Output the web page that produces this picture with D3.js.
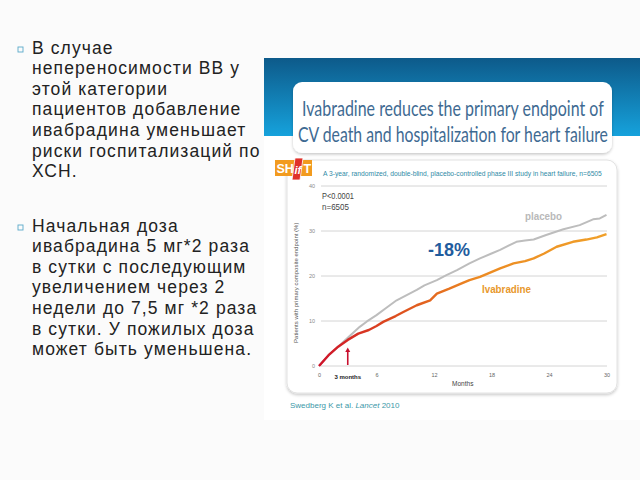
<!DOCTYPE html>
<html><head><meta charset="utf-8">
<script src="https://cdn.jsdelivr.net/npm/d3@7"></script>
<style>
html,body{margin:0;padding:0;background:#fbfbfb;}
svg{display:block;}
</style></head>
<body>
<svg id="chart" width="640" height="480"></svg>
<script>
// ---- data ----
const bullet1 = ["В случае","непереносимости ВВ у","этой категории","пациентов добавление","ивабрадина уменьшает","риски госпитализаций по","ХСН."];
const bullet2 = ["Начальная доза","ивабрадина 5 мг*2 раза","в сутки с последующим","увеличением через 2","недели до 7,5 мг *2 раза","в сутки. У пожилых доза","может быть уменьшена."];
const titleLines = ["Ivabradine reduces the primary endpoint of","CV death and hospitalization for heart failure"];
const subtitle = "A 3-year, randomized, double-blind, placebo-controlled phase III study in heart failure, n=6505";
const yTicks = [0,10,20,30,40];
const xTicks = [0,6,12,18,24,30];
const xTickLabels = ["0","6","12","18","24","30"];
const placeboMonths = [0,1,2,3,4.25,5,6,7,8.1,9,10.2,11,12.3,13.3,14.4,15.7,16.8,18,18.9,20.6,21.5,22.4,23.7,25.5,27.2,28.6,29.3,30];
const placeboPct    = [0,2.4,4.3,6.3,8.7,9.9,11.3,12.9,14.6,15.6,16.9,17.9,19.1,20.2,21.3,22.8,23.9,25.0,25.8,27.6,27.9,28.1,29.1,30.4,31.3,32.6,32.8,33.6];
const ivaMonths = [0,1,2,3,4.1,5.2,6,6.7,8,8.8,10.2,11.6,12.3,13.6,14.7,15.7,16.8,18.9,20.3,21.5,22.4,23.5,24.8,26.5,27.9,29,30];
const ivaPct    = [0,2.4,4.3,5.8,7.2,8.0,8.9,9.8,11.1,12.0,13.5,14.6,16.1,17.2,18.2,19.1,19.8,21.7,22.8,23.3,23.9,25.0,26.5,27.6,28.1,28.6,29.3];

const svg = d3.select("#chart");
const defs = svg.append("defs");

// fit text to a width by adjusting font size, then stretch vertically to keep the glyph height
function fitText(sel, targetW, baseSize){
  sel.attr("font-size", baseSize);
  const w = sel.node().getComputedTextLength();
  const fs = baseSize * targetW / w;
  sel.attr("font-size", fs);
  const xx = +sel.attr("x"), yy = +sel.attr("y");
  const k = baseSize / fs;
  sel.attr("transform", `translate(${xx},${yy}) scale(1,${k}) translate(${-xx},${-yy})`);
}

// ---- left text ----
function para(lines, y0){
  const g = svg.append("g");
  g.append("rect").attr("x",18).attr("y",y0-6.5).attr("width",5).attr("height",5)
    .attr("fill","none").attr("stroke","#5aa9c9").attr("stroke-width",0.9);
  g.selectAll("text").data(lines).join("text")
    .attr("x",32).attr("y",(d,i)=>y0+i*20.6)
    .attr("font-family","'Liberation Sans', Arial, sans-serif")
    .attr("letter-spacing",1.1)
    .attr("font-size",17.5).attr("fill","#222").text(d=>d);
}

// ---- right image ----
const band = defs.append("linearGradient").attr("id","band").attr("x1",0).attr("y1",0).attr("x2",0).attr("y2",1);
band.append("stop").attr("offset","0%").attr("stop-color","#0d5a8a");
band.append("stop").attr("offset","100%").attr("stop-color","#16a2dc");
svg.append("rect").attr("x",264).attr("y",58).attr("width",376).attr("height",362).attr("fill","#ffffff");
svg.append("rect").attr("x",264).attr("y",58).attr("width",376).attr("height",78).attr("fill","url(#band)");

const sh = defs.append("filter").attr("id","sh").attr("x","-10%").attr("y","-10%").attr("width","120%").attr("height","130%");
sh.append("feDropShadow").attr("dx",0).attr("dy",1.5).attr("stdDeviation",1.5).attr("flood-color","#000").attr("flood-opacity",0.22);

svg.append("rect").attr("x",293).attr("y",82).attr("width",319).attr("height",71).attr("rx",9)
  .attr("fill","#fff").attr("filter","url(#sh)");
titleLines.forEach((t,i)=>{
  const tx = svg.append("text").attr("x",i?298:302).attr("y",116.5+i*25.5)
    .attr("font-family","Lato, 'Open Sans', sans-serif").attr("fill","#3e6a92").text(t);
  fitText(tx, i?310:302, 21);
});

// chart panel
svg.append("rect").attr("x",287).attr("y",160).attr("width",330).attr("height",233).attr("rx",10)
  .attr("fill","#fff").attr("stroke","#e2e2e2").attr("stroke-width",1).attr("filter","url(#sh)");

// SHIFT logo
const logo = svg.append("g");
logo.append("rect").attr("x",275).attr("y",160).attr("width",37).attr("height",16).attr("fill","#f29b1f");
logo.append("path").attr("d","M295,158 L303,158 L300,180 L292,180 Z").attr("fill","#e0312b").attr("stroke","#fff").attr("stroke-width",0.8);
logo.append("text").attr("x",276.5).attr("y",173).attr("font-family","'Liberation Sans', Arial, sans-serif")
  .attr("font-weight","bold").attr("font-size",12.5).attr("fill","#fff").text("SH");
logo.append("text").attr("x",294.5).attr("y",174).attr("font-family","'Liberation Sans', Arial, sans-serif")
  .attr("font-weight","bold").attr("font-style","italic").attr("font-size",11).attr("fill","#fff").text("if");
logo.append("text").attr("x",303.5).attr("y",173).attr("font-family","'Liberation Sans', Arial, sans-serif")
  .attr("font-weight","bold").attr("font-size",12.5).attr("fill","#fff").text("T");

const sub = svg.append("text").attr("x",323).attr("y",176)
  .attr("font-family","'Liberation Sans', Arial, sans-serif").attr("fill","#2f8aa6").text(subtitle);
fitText(sub, 279, 7);

// scales
const x = d3.scaleLinear().domain([0,30]).range([319,606.5]);
const y = d3.scaleLinear().domain([0,40]).range([366,186]);

// grid
svg.append("g").selectAll("line").data(yTicks).join("line")
  .attr("x1",321).attr("x2",607).attr("y1",d=>y(d)).attr("y2",d=>y(d))
  .attr("stroke","#d4d4d4").attr("stroke-width",1);

// y axis labels
const yAxis = d3.axisLeft(y).tickValues(yTicks).tickSize(0).tickPadding(0);
const gy = svg.append("g").attr("transform","translate(315,0)").call(yAxis);
gy.select(".domain").remove();
gy.selectAll("text").attr("font-family","'Liberation Sans', Arial, sans-serif").attr("font-size",5.5).attr("fill","#8a8a8a");

// x axis labels
const xAxis = d3.axisBottom(x).tickValues(xTicks).tickFormat((d,i)=>xTickLabels[i]).tickSize(0).tickPadding(0);
const gx = svg.append("g").attr("transform","translate(0,373)").call(xAxis);
gx.select(".domain").remove();
gx.selectAll("text").attr("font-family","'Liberation Sans', Arial, sans-serif").attr("font-size",5.5).attr("fill","#666");
svg.append("text").attr("x",x(3)).attr("y",378.5).attr("text-anchor","middle")
  .attr("font-family","'Liberation Sans Narrow','Liberation Sans', Arial, sans-serif").attr("font-weight","bold")
  .attr("font-size",6).attr("fill","#222").text("3 months");
svg.append("text").attr("x",x(15)).attr("y",386).attr("text-anchor","middle")
  .attr("font-family","'Liberation Sans', Arial, sans-serif").attr("font-size",6.5).attr("fill","#444").text("Months");
const yl = svg.append("text").attr("x",0).attr("y",0).attr("text-anchor","middle")
  .attr("font-family","'Liberation Sans', Arial, sans-serif").attr("font-size",6).attr("fill","#555")
  .text("Patients with primary composite endpoint (%)");
yl.attr("transform",`translate(297.5,${y(18.5)}) rotate(-90)`);

// lines
const line = d3.line().x(d=>x(d[0])).y(d=>y(d[1])).curve(d3.curveLinear);
const ivGrad = defs.append("linearGradient").attr("id","ivg").attr("gradientUnits","userSpaceOnUse")
  .attr("x1",x(0)).attr("x2",x(30)).attr("y1",0).attr("y2",0);
ivGrad.append("stop").attr("offset","0%").attr("stop-color","#d0122a");
ivGrad.append("stop").attr("offset","25%").attr("stop-color","#dc4a1e");
ivGrad.append("stop").attr("offset","55%").attr("stop-color","#ec8a22");
ivGrad.append("stop").attr("offset","100%").attr("stop-color","#f0a02a");

svg.append("path").datum(placeboMonths.map((m,i)=>[m,placeboPct[i]]))
  .attr("d",line).attr("fill","none").attr("stroke","#bdbdbd").attr("stroke-width",2).attr("stroke-linejoin","round");
svg.append("path").datum(ivaMonths.map((m,i)=>[m,ivaPct[i]]))
  .attr("d",line).attr("fill","none").attr("stroke","url(#ivg)").attr("stroke-width",2.4).attr("stroke-linejoin","round");

// arrow at 3 months
svg.append("line").attr("x1",x(3)).attr("x2",x(3)).attr("y1",351).attr("y2",365)
  .attr("stroke","#c8102e").attr("stroke-width",1.6);
svg.append("path").attr("d",`M${x(3)-2.5},352 L${x(3)},347.5 L${x(3)+2.5},352 Z`).attr("fill","#c8102e");

// annotations
const t1 = svg.append("text").attr("x",322).attr("y",199).attr("font-family","'Liberation Sans', Arial, sans-serif").attr("fill","#444").text("P<0.0001");
fitText(t1, 32, 9);
const t2 = svg.append("text").attr("x",322).attr("y",210).attr("font-family","'Liberation Sans', Arial, sans-serif").attr("fill","#444").text("n=6505");
fitText(t2, 27, 9);
svg.append("text").attr("x",428).attr("y",256)
  .attr("font-family","'Liberation Sans', Arial, sans-serif").attr("font-weight","bold").attr("font-size",18).attr("fill","#1f5c9e").text("-18%");
const t3 = svg.append("text").attr("x",525).attr("y",220.5)
  .attr("font-family","'Liberation Sans', Arial, sans-serif").attr("font-weight","bold").attr("fill","#b9b9b9").text("placebo");
fitText(t3, 37, 11);
const t4 = svg.append("text").attr("x",482).attr("y",293.5)
  .attr("font-family","'Liberation Sans', Arial, sans-serif").attr("font-weight","bold").attr("fill","#e8982c").text("Ivabradine");
fitText(t4, 49, 11);

// citation
const cit = svg.append("text").attr("x",290).attr("y",408).attr("font-family","'Liberation Sans', Arial, sans-serif")
  .attr("font-size",8).attr("fill","#3b98a8");
cit.append("tspan").text("Swedberg K et al. ");
cit.append("tspan").attr("font-style","italic").text("Lancet");
cit.append("tspan").text(" 2010");

para(bullet1, 53.5);
para(bullet2, 231.5);
</script>
</body></html>
